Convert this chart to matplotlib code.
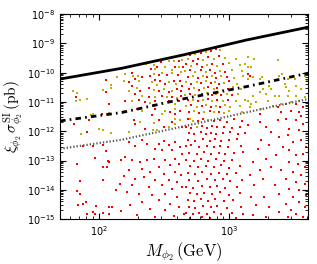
import numpy as np
import matplotlib
matplotlib.use('Agg')
import matplotlib.pyplot as plt

# curves: log10(M / GeV), log10(sigma / pb)
line_logm = [1.70, 2.177, 2.654, 3.131, 3.608]
solid_logs = [-10.22, -9.85, -9.39, -8.89, -8.45]
dashdot_logs = [-11.65, -11.36, -10.89, -10.48, -10.02]
dotted_logs = [-12.60, -12.29, -11.83, -11.36, -10.90]

# scatter points, (log10 M, log10 sigma)
red_low = [(2.05, -10.25), (2.05, -10.66), (1.82, -10.83), (2.08, -11.07), (2.02, -11.41),
           (1.92, -11.62), (1.81, -11.75), (1.91, -12.03), (1.88, -12.50), (1.95, -12.50),
           (2.03, -12.47), (2.05, -12.68), (1.97, -12.91), (1.83, -13.12), (2.07, -13.02),
           (2.08, -13.05), (2.17, -12.98), (2.03, -13.22), (2.06, -13.22), (2.03, -13.67),
           (1.85, -13.70), (2.16, -13.80), (1.83, -14.04), (1.85, -14.14), (2.13, -14.00),
           (1.90, -14.41), (1.84, -14.52), (1.88, -14.48), (1.98, -14.55), (2.08, -14.59),
           (2.10, -14.59), (1.95, -14.76), (1.91, -14.83), (1.97, -14.83), (2.03, -14.79),
           (2.08, -14.83), (2.17, -14.72)]
red_upper_left = [(2.480, -9.63), (2.613, -9.59), (2.403, -9.88), (2.446, -9.82), (2.587, -9.82),
                  (2.646, -9.80), (2.254, -10.03), (2.280, -10.22), (2.228, -10.33), (2.331, -10.16),
                  (2.395, -10.11), (2.459, -10.07), (2.523, -10.07), (2.608, -10.07), (2.433, -10.25),
                  (2.472, -10.28), (2.505, -10.39), (2.574, -10.28), (2.626, -10.28), (2.639, -10.45),
                  (2.254, -10.45), (2.318, -10.62), (2.382, -10.53), (2.459, -10.62), (2.536, -10.67),
                  (2.600, -10.56), (2.633, -10.64), (2.280, -10.73), (2.382, -10.82), (2.485, -10.79),
                  (2.562, -10.82), (2.633, -10.79), (2.203, -10.98), (2.305, -10.94), (2.356, -11.02),
                  (2.433, -10.98), (2.536, -10.98), (2.618, -10.98), (2.292, -11.24), (2.433, -11.24),
                  (2.549, -11.36), (2.626, -11.30), (2.408, -11.44), (2.587, -11.41)]
red_lower_left = [(2.267, -11.63), (2.280, -11.77), (2.459, -11.63), (2.498, -11.86), (2.562, -11.69),
                  (2.639, -11.86), (2.356, -11.91), (2.233, -12.37), (2.280, -12.52), (2.331, -12.31),
                  (2.369, -12.43), (2.459, -12.43), (2.498, -12.33), (2.536, -12.48), (2.587, -12.37),
                  (2.626, -12.54), (2.433, -12.60), (2.485, -12.65), (2.562, -12.65), (2.639, -12.77),
                  (2.203, -12.88), (2.254, -12.99), (2.318, -13.05), (2.369, -12.99), (2.421, -12.94),
                  (2.510, -12.99), (2.587, -12.94), (2.549, -13.17), (2.613, -13.11), (2.459, -13.22),
                  (2.331, -13.28), (2.228, -13.34), (2.395, -13.39), (2.498, -13.45), (2.587, -13.39),
                  (2.633, -13.51), (2.190, -13.54), (2.280, -13.62), (2.344, -13.56), (2.433, -13.68),
                  (2.536, -13.68), (2.600, -13.73), (2.254, -13.85), (2.382, -13.90), (2.485, -13.85),
                  (2.562, -13.96), (2.639, -13.90), (2.215, -14.08), (2.305, -14.13), (2.408, -14.19),
                  (2.510, -14.13), (2.600, -14.25), (2.331, -14.42), (2.459, -14.36), (2.549, -14.47),
                  (2.241, -14.53), (2.395, -14.64), (2.510, -14.70), (2.613, -14.59), (2.292, -14.87),
                  (2.433, -14.93), (2.574, -14.90), (2.651, -14.81)]
red_upper_mid = [(2.70, -9.40), (2.78, -9.33), (2.86, -9.25), (2.90, -9.20), (2.72, -9.60),
                 (2.76, -9.52), (2.84, -9.48), (2.92, -9.45), (2.67, -9.72), (2.75, -9.70),
                 (2.79, -9.80), (2.87, -9.70), (2.95, -9.72), (2.70, -9.92), (2.78, -9.90),
                 (2.85, -9.92), (2.89, -10.00), (2.97, -9.98), (2.68, -10.15), (2.76, -10.18),
                 (2.83, -10.16), (2.90, -10.18), (2.98, -10.15), (2.71, -10.38), (2.78, -10.36),
                 (2.86, -10.36), (2.92, -10.38), (3.00, -10.30), (2.69, -10.55), (2.77, -10.58),
                 (2.84, -10.50), (2.91, -10.52), (2.99, -10.55), (2.70, -10.72), (2.79, -10.74),
                 (2.87, -10.76), (2.94, -10.78), (3.02, -10.76), (2.68, -10.95), (2.76, -10.98),
                 (2.84, -10.90), (2.91, -10.93), (2.99, -10.92), (2.71, -11.12), (2.79, -11.14),
                 (2.86, -11.17), (2.93, -11.18), (2.69, -11.35), (2.77, -11.38), (2.85, -11.30),
                 (2.92, -11.33)]
red_lower_mid = [(2.68, -11.60), (2.76, -11.66), (2.80, -11.58), (2.88, -11.64), (2.93, -11.61),
                 (2.98, -11.67), (3.04, -11.60), (3.10, -11.65), (2.67, -11.84), (2.71, -11.88),
                 (2.79, -11.82), (2.83, -11.89), (2.87, -11.83), (2.91, -11.87), (2.96, -11.84),
                 (3.02, -11.90), (3.08, -11.85), (2.69, -12.06), (2.73, -12.10), (2.78, -12.04),
                 (2.82, -12.09), (2.86, -12.05), (2.90, -12.11), (2.95, -12.07), (3.01, -12.04),
                 (3.07, -12.10), (3.12, -12.06), (2.68, -12.29), (2.74, -12.33), (2.80, -12.27),
                 (2.85, -12.32), (2.89, -12.28), (2.94, -12.33), (3.00, -12.30), (3.06, -12.26),
                 (2.67, -12.52), (2.71, -12.48), (2.77, -12.55), (2.83, -12.50), (2.88, -12.54),
                 (2.93, -12.49), (2.99, -12.53), (3.09, -12.50), (2.69, -12.74), (2.75, -12.78),
                 (2.81, -12.72), (2.86, -12.77), (2.92, -12.73), (2.97, -12.79), (3.04, -12.75),
                 (3.11, -12.71), (2.67, -12.97), (2.73, -13.01), (2.78, -12.95), (2.84, -13.00),
                 (2.90, -12.96), (2.96, -13.02), (3.02, -12.98), (2.70, -13.19), (2.76, -13.23),
                 (2.82, -13.18), (2.88, -13.22), (2.94, -13.17), (3.00, -13.24), (3.08, -13.20),
                 (2.68, -13.42), (2.74, -13.46), (2.79, -13.40), (2.86, -13.45), (2.92, -13.41),
                 (2.98, -13.47), (3.05, -13.43), (2.69, -13.65), (2.76, -13.69), (2.83, -13.63),
                 (2.89, -13.68), (2.95, -13.64), (3.01, -13.70), (3.10, -13.66), (2.67, -13.89),
                 (2.72, -13.93), (2.79, -13.87), (2.85, -13.92), (2.91, -13.88), (2.97, -13.94),
                 (3.06, -13.90), (2.70, -14.11), (2.75, -14.15), (2.81, -14.10), (2.87, -14.14),
                 (2.93, -14.09), (3.00, -14.16), (3.08, -14.12), (2.68, -14.34), (2.73, -14.38),
                 (2.78, -14.32), (2.84, -14.37), (2.89, -14.33), (2.96, -14.39), (3.03, -14.35),
                 (2.69, -14.57), (2.74, -14.61), (2.80, -14.56), (2.86, -14.60), (2.91, -14.55),
                 (2.98, -14.62), (3.09, -14.58), (2.67, -14.79), (2.72, -14.83), (2.77, -14.78),
                 (2.83, -14.82), (2.88, -14.77), (2.94, -14.84), (3.02, -14.80), (3.11, -14.81),
                 (2.70, -14.95), (2.79, -14.94), (2.85, -14.96), (3.05, -14.95)]
red_high = [(3.144, -10.05), (3.157, -10.11), (3.234, -11.41), (3.375, -11.19), (3.439, -11.07),
            (3.400, -11.36), (3.477, -11.30), (3.541, -11.36), (3.567, -11.19), (3.516, -11.07),
            (3.554, -11.47), (3.144, -11.80), (3.234, -11.69), (3.285, -11.86), (3.375, -11.63),
            (3.439, -11.57), (3.516, -11.63), (3.567, -11.74), (3.464, -11.91), (3.541, -11.97),
            (3.323, -12.03), (3.246, -12.31), (3.387, -12.20), (3.452, -12.14), (3.490, -12.37),
            (3.554, -12.31), (3.593, -12.54), (3.221, -12.60), (3.310, -12.48), (3.413, -12.54),
            (3.464, -12.65), (3.516, -12.82), (3.567, -12.77), (3.362, -12.82), (3.285, -12.94),
            (3.182, -13.05), (3.234, -13.34), (3.323, -13.22), (3.464, -13.05), (3.528, -13.11),
            (3.580, -13.22), (3.400, -13.34), (3.490, -13.39), (3.554, -13.51), (3.157, -13.51),
            (3.259, -13.62), (3.439, -13.62), (3.516, -13.73), (3.580, -13.79), (3.195, -13.85),
            (3.349, -13.85), (3.464, -13.96), (3.541, -14.02), (3.593, -14.19), (3.169, -14.25),
            (3.272, -14.25), (3.387, -14.13), (3.490, -14.25), (3.439, -14.47), (3.541, -14.42),
            (3.580, -14.59), (3.208, -14.53), (3.310, -14.59), (3.477, -14.70), (3.516, -14.81),
            (3.387, -14.76), (3.182, -14.87), (3.285, -14.93), (3.567, -14.93), (3.452, -14.93)]

yel_low = [(2.14, -10.15), (2.09, -10.42), (2.09, -10.53), (2.03, -10.59), (1.80, -10.63),
           (1.83, -10.70), (1.82, -10.97), (1.85, -10.94), (1.91, -10.90), (1.94, -11.45),
           (1.95, -11.41), (2.08, -11.38), (1.86, -12.10), (2.00, -11.92), (2.03, -11.96),
           (2.09, -12.06)]
yel_left = [(2.362, -9.71), (2.421, -9.73), (2.536, -9.62), (2.580, -9.59), (2.639, -9.56),
            (2.433, -9.88), (2.505, -9.82), (2.562, -9.91), (2.618, -9.82), (2.203, -10.05),
            (2.259, -10.12), (2.300, -10.12), (2.190, -10.28), (2.305, -10.28), (2.421, -10.05),
            (2.485, -10.03), (2.562, -10.03), (2.633, -9.99), (2.408, -10.33), (2.446, -10.41),
            (2.536, -10.33), (2.592, -10.39), (2.292, -10.53), (2.228, -10.62), (2.421, -10.59),
            (2.498, -10.56), (2.562, -10.64), (2.331, -10.79), (2.433, -10.84), (2.523, -10.84),
            (2.600, -10.87), (2.254, -10.98), (2.395, -11.05), (2.485, -11.05), (2.582, -11.07),
            (2.190, -11.30), (2.331, -11.32), (2.510, -11.30), (2.587, -11.24), (2.485, -11.41),
            (2.318, -11.69), (2.421, -11.72), (2.587, -11.57), (2.626, -11.63), (2.228, -12.03),
            (2.413, -11.95), (2.446, -11.97), (2.536, -11.86), (2.587, -11.74)]
yel_mid = [(2.74, -9.38), (2.82, -9.30), (2.93, -9.22), (2.68, -9.55), (2.80, -9.57),
           (2.88, -9.55), (2.97, -9.50), (3.05, -9.55), (2.71, -9.78), (2.83, -9.74),
           (2.91, -9.78), (3.00, -9.68), (3.08, -9.75), (3.12, -9.70), (2.66, -9.95),
           (2.74, -9.98), (2.82, -9.97), (2.93, -9.93), (3.02, -9.92), (3.10, -9.96),
           (2.72, -10.12), (2.80, -10.10), (2.87, -10.12), (2.94, -10.10), (3.04, -10.18),
           (3.11, -10.12), (2.67, -10.33), (2.75, -10.32), (2.82, -10.30), (2.89, -10.32),
           (2.96, -10.34), (3.06, -10.38), (2.73, -10.52), (2.81, -10.54), (2.88, -10.56),
           (2.95, -10.58), (3.03, -10.50), (3.09, -10.57), (2.66, -10.75), (2.74, -10.78),
           (2.83, -10.70), (2.90, -10.72), (2.98, -10.73), (3.07, -10.72), (2.72, -10.92),
           (2.80, -10.94), (2.87, -10.97), (2.95, -10.98), (3.05, -10.96), (3.12, -10.92),
           (2.67, -11.15), (2.75, -11.18), (2.82, -11.10), (2.90, -11.13), (2.97, -11.12),
           (3.01, -11.16), (3.08, -11.14), (2.73, -11.32), (2.81, -11.34), (2.88, -11.36),
           (2.96, -11.38), (3.00, -11.32), (3.10, -11.36), (2.72, -11.64), (2.84, -11.62),
           (2.75, -11.86), (2.70, -11.58)]
yel_high = [(3.144, -9.46), (3.195, -9.54), (3.144, -9.80), (3.169, -9.82), (3.144, -10.22),
            (3.182, -10.16), (3.234, -10.22), (3.254, -10.14), (3.375, -9.57), (3.387, -10.11),
            (3.408, -10.05), (3.452, -10.22), (3.503, -10.22), (3.426, -10.39), (3.439, -10.50),
            (3.464, -10.62), (3.516, -10.45), (3.554, -10.56), (3.310, -10.45), (3.323, -10.56),
            (3.259, -10.56), (3.234, -10.67), (3.285, -10.73), (3.349, -10.79), (3.182, -10.79),
            (3.144, -10.96), (3.169, -11.07), (3.157, -11.19), (3.208, -11.01), (3.298, -10.96),
            (3.387, -10.79), (3.452, -10.79), (3.516, -10.79), (3.541, -10.96), (3.580, -10.84),
            (3.477, -11.01), (3.400, -11.07), (3.336, -11.13), (3.246, -11.24), (3.587, -10.11),
            (3.598, -10.28)]

red = np.array(red_low + red_upper_left + red_lower_left + red_upper_mid + red_lower_mid + red_high)
yel = np.array(yel_low + yel_left + yel_mid + yel_high)

fig = plt.figure(figsize=(3.17, 2.64), dpi=100)
ax = fig.add_axes([0.189, 0.170, 0.783, 0.777])

ax.scatter(10 ** red[:, 0], 10 ** red[:, 1], s=4, marker='s', color='#ff0000', linewidths=0)
ax.scatter(10 ** yel[:, 0], 10 ** yel[:, 1], s=4, marker='s', color='#bfb000', linewidths=0)

lm = 10 ** np.array(line_logm)
ax.plot(lm, 10 ** np.array(solid_logs), color='k', lw=2.0)
ax.plot(lm, 10 ** np.array(dashdot_logs), color='k', lw=2.0, dashes=(2.0, 1.5, 0.6, 1.5))
ax.plot(lm, 10 ** np.array(dotted_logs), color='0.35', lw=1.6, dashes=(0.6, 0.9))

ax.set_xscale('log')
ax.set_yscale('log')
ax.set_xlim(50, 4050)
ax.set_ylim(1e-15, 1e-8)
ax.tick_params(which='both', direction='in', top=True, right=True, labelsize=7)
ax.tick_params(which='major', length=4)
ax.tick_params(which='minor', length=2)

ax.set_xlabel(r'$M_{\phi_2}\,({\rm GeV})$', fontsize=12, math_fontfamily='cm', labelpad=2)
ax.set_ylabel(r'$\xi_{\phi_2}\,\sigma^{\rm SI}_{\phi_2}\,({\rm pb})$', fontsize=11,
              math_fontfamily='cm', labelpad=1)

fig.savefig('out.png', dpi=100)
